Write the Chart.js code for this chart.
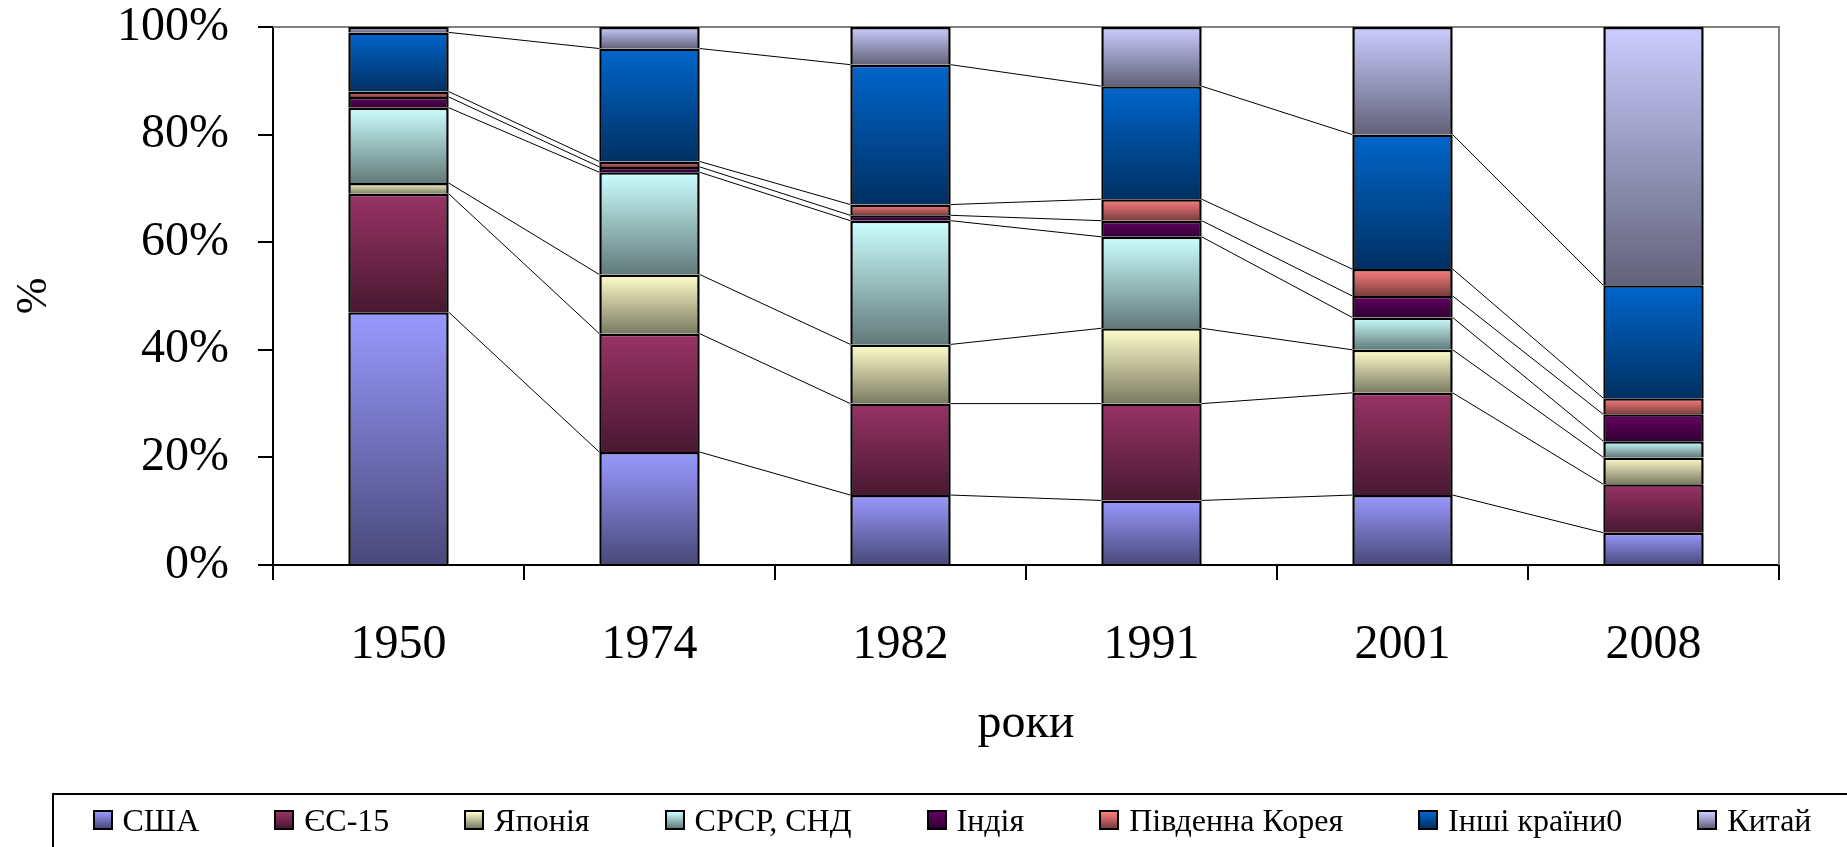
<!DOCTYPE html>
<html>
<head>
<meta charset="utf-8">
<script src="https://cdn.jsdelivr.net/npm/chart.js@4.4.0/dist/chart.umd.min.js"></script>
<style>
  body { margin: 0; background: #fff; }
  #wrap { position: relative; width: 1847px; height: 847px; overflow: hidden; }
  #legend {
    position: absolute; left: 52px; top: 793px; width: 1900px; height: 90px;
    border: 2.5px solid #000; box-sizing: border-box;
    display: flex; align-items: flex-start; padding: 6.5px 0 0 38.5px;
    font-family: "Liberation Serif", serif; font-size: 32px; line-height: 36px; color: #000;
  }
  .item { display: flex; align-items: center; margin-right: 75px; white-space: nowrap; }
  .sw { width: 16px; height: 16px; border: 2px solid #000; margin-right: 10px; }
</style>
</head>
<body>
<div id="wrap">
  <canvas id="grafico" width="1847" height="847"></canvas>
  <div id="legend"></div>
</div>
<script>
// ===== DATA =====
const roky = ["1950", "1974", "1982", "1991", "2001", "2008"];
const nazvy = ["США", "ЄС-15", "Японія", "СРСР, СНД", "Індія", "Південна Корея", "Інші країни0", "Китай"];

const ssha     = [47, 21, 13, 12, 13, 6];
const yes15    = [22, 22, 17, 18, 19, 9];
const yaponiya = [2, 11, 11, 14, 8, 5];
const srsr     = [14, 19, 23, 17, 6, 3];
const indiya   = [2, 1, 1, 3, 4, 5];
const koreya   = [1, 1, 2, 4, 5, 3];
const inshi    = [11, 21, 26, 21, 25, 21];
const kytai    = [1, 4, 7, 11, 20, 48];

const yTicks = [0, 20, 40, 60, 80, 100];

// light (top) and dark (bottom) colours of each series
const svitli = ["#9999FF", "#993366", "#FFFFCC", "#CCFFFF", "#660066", "#FF8080", "#0066CC", "#CCCCFF"];
const temni  = ["#49497A", "#491831", "#7A7A62", "#627A7A", "#300030", "#7A3D3D", "#003062", "#62627A"];

const ryady = [ssha, yes15, yaponiya, srsr, indiya, koreya, inshi, kytai];

// ===== GRADIENT =====
function gradient(k) {
  return function (c) {
    const y = c.chart.scales.y;
    if (c.type !== "data" || !y) return svitli[k];
    let base = 0;
    for (let j = 0; j < k; j++) base += ryady[j][c.dataIndex];
    const y0 = y.getPixelForValue(base + ryady[k][c.dataIndex]);
    const y1 = y.getPixelForValue(base);
    if (!isFinite(y0) || !isFinite(y1) || y0 === y1) return svitli[k];
    const g = c.chart.ctx.createLinearGradient(0, y0, 0, y1);
    g.addColorStop(0, svitli[k]);
    g.addColorStop(1, temni[k]);
    return g;
  };
}

// ===== PLUGINS =====
const ramka = {
  id: "ramka",
  beforeDatasetsDraw(chart) {
    const { ctx, chartArea: a } = chart;
    ctx.save();
    ctx.strokeStyle = "#808080";
    ctx.lineWidth = 2;
    ctx.beginPath();
    ctx.moveTo(a.left, a.top);
    ctx.lineTo(a.right, a.top);
    ctx.lineTo(a.right, a.bottom);
    ctx.stroke();
    ctx.restore();
  }
};

const liniiRyadiv = {
  id: "liniiRyadiv",
  beforeDatasetsDraw(chart) {
    const ctx = chart.ctx;
    ctx.save();
    ctx.strokeStyle = "#000";
    ctx.lineWidth = 1;
    const n = chart.data.datasets.length;
    for (let k = 0; k < n - 1; k++) {
      const bars = chart.getDatasetMeta(k).data;
      for (let i = 0; i < bars.length - 1; i++) {
        const a = bars[i], b = bars[i + 1];
        ctx.beginPath();
        ctx.moveTo(a.x + a.width / 2, a.y);
        ctx.lineTo(b.x - b.width / 2, b.y);
        ctx.stroke();
      }
    }
    ctx.restore();
  }
};

// ===== CHART =====
const shryft = "'Liberation Serif', 'Times New Roman', serif";

new Chart(document.getElementById("grafico"), {
  type: "bar",
  data: {
    labels: roky,
    datasets: ryady.map((r, k) => ({
      label: nazvy[k],
      data: r,
      backgroundColor: gradient(k),
      borderColor: "#000",
      borderWidth: 2.5,
      borderSkipped: "start",
      barPercentage: 0.4,
      categoryPercentage: 1
    }))
  },
  options: {
    responsive: false,
    animation: false,
    layout: { padding: { top: 27, right: 68, bottom: 94, left: 0 } },
    plugins: { legend: { display: false }, tooltip: { enabled: false } },
    scales: {
      x: {
        stacked: true,
        afterFit: s => { s.height = 188; s.paddingLeft = 0; s.paddingRight = 0; },
        grid: { display: true, offset: true, drawOnChartArea: false, color: "#000", lineWidth: 2, tickLength: 15 },
        border: { color: "#000", width: 2 },
        ticks: { color: "#000", font: { family: shryft, size: 48 }, padding: 37 },
        title: { display: true, text: "роки", color: "#000", font: { family: shryft, size: 48 }, padding: 0 }
      },
      y: {
        stacked: true,
        min: 0,
        max: 100,
        afterFit: s => { s.width = 273; s.paddingTop = 0; s.paddingBottom = 0; },
        afterBuildTicks: s => { s.ticks = yTicks.map(v => ({ value: v })); },
        grid: { drawOnChartArea: false, color: "#000", lineWidth: 2, tickLength: 15 },
        border: { color: "#000", width: 2 },
        ticks: { color: "#000", font: { family: shryft, size: 48 }, padding: 29, callback: v => v + "%" },
        title: { display: true, text: "%", color: "#000", font: { family: shryft, size: 44 }, padding: { top: 8 } }
      }
    }
  },
  plugins: [ramka, liniiRyadiv]
});

// ===== LEGEND =====
const legend = document.getElementById("legend");
nazvy.forEach((n, k) => {
  legend.innerHTML += `<div class="item"><div class="sw" style="background:linear-gradient(${svitli[k]}, ${temni[k]})"></div>${n}</div>`;
});
</script>
</body>
</html>
